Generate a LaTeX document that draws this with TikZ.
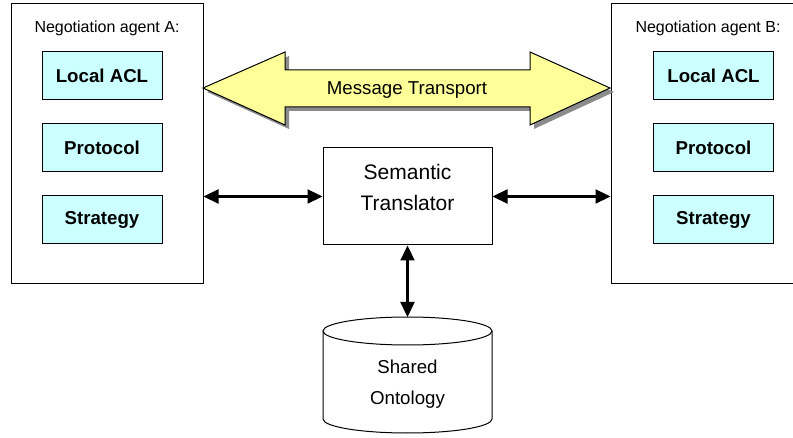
\documentclass[tikz,border=0pt]{standalone}
\usepackage{fontspec}
\setmainfont{Liberation Sans}
\usetikzlibrary{arrows.meta}
\definecolor{boxcyan}{HTML}{CCFFFF}
\definecolor{arrowyellow}{HTML}{FFFF99}
\definecolor{shadowgray}{HTML}{8C8C8C}
\tikzset{
  agent/.style={draw, fill=white, line width=1pt, minimum width=192pt, minimum height=280pt, inner sep=0pt},
  agenttitle/.style={font=\fontsize{16}{19}\selectfont, inner sep=0pt},
  comp/.style={draw, fill=boxcyan, line width=1pt, minimum width=120pt, minimum height=48pt, inner sep=0pt, font=\fontsize{18.67}{22}\selectfont\bfseries},
  transbox/.style={draw, fill=white, line width=1pt, minimum width=169pt, minimum height=97pt, inner sep=0pt},
  transtext/.style={inner sep=0pt, align=center, font=\fontsize{21}{31}\selectfont},
  dbtext/.style={inner sep=0pt, align=center, font=\fontsize{18.67}{31}\selectfont},
  msgtext/.style={inner sep=0pt, font=\fontsize{18.67}{22}\selectfont},
  link/.style={{Triangle[length=15pt,width=14pt]}-{Triangle[length=15pt,width=14pt]}, line width=2.2pt},
}
\begin{document}
\begin{tikzpicture}[x=1pt,y=-1pt]
\useasboundingbox (0,0) rectangle (793,438);

% agents
\node[agent] (agentA) at (107,144) {};
\node[agenttitle] (titleA) at (107,28) {Negotiation agent A:};
\node[comp] (aclA) at (102,76) {Local ACL};
\node[comp] (protA) at (102,148) {Protocol};
\node[comp] (stratA) at (102,220) {Strategy};

\node[agent] (agentB) at (707,144) {};
\node[agenttitle] (titleB) at (708,28) {Negotiation agent B:};
\node[comp] (aclB) at (713.5,76) {Local ACL};
\node[comp] (protB) at (713.5,148) {Protocol};
\node[comp] (stratB) at (713.5,220) {Strategy};

% message transport arrow
\fill[shadowgray, shift={(4,4)}] (203,88) -- (285,52) -- (285,70) -- (530,70) -- (530,52) -- (610,88) -- (530,125) -- (530,107) -- (285,107) -- (285,125) -- cycle;
\draw[fill=arrowyellow, line width=1pt, line join=miter] (203,88) -- (285,52) -- (285,70) -- (530,70) -- (530,52) -- (610,88) -- (530,125) -- (530,107) -- (285,107) -- (285,125) -- cycle;
\node[msgtext] (msg) at (407,90) {Message Transport};

% translator
\node[transbox] (st) at (407.5,196.5) {};
\node[transtext] (sttext) at (407.5,187) {Semantic\\Translator};

% shared ontology cylinder
\draw[fill=white, line width=1pt] (323,331) -- (323,419) arc[start angle=180, end angle=360, x radius=84.5, y radius=-14] -- (492,331);
\draw[fill=white, line width=1pt] (407.5,331) ellipse[x radius=84.5, y radius=14];
\coordinate (dbtop) at (407.5,317);
\node[dbtext] (db) at (407.5,384) {Shared\\Ontology};

% connectors
\draw[link] (st.west -| agentA.east) -- (st.west);
\draw[link] (st.east) -- (st.east -| agentB.west);
\draw[link] (st.south) -- (dbtop);
\end{tikzpicture}
\end{document}
